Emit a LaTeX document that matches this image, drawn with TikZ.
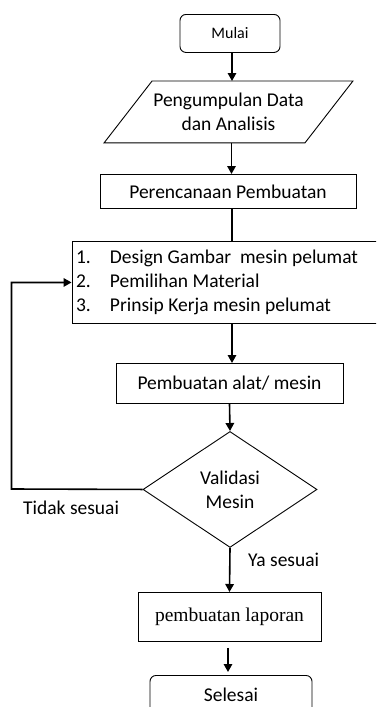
\documentclass[tikz,border=0pt]{standalone}
\usepackage{fontspec}
\setmainfont{Carlito}
\newfontfamily\timesfont{Liberation Serif}
\usetikzlibrary{arrows.meta,positioning,shapes.geometric}
\tikzset{
  box/.style={draw=black,line width=0.9pt,align=center,inner sep=3pt,font=\fontsize{19.5}{24}\selectfont},
  term/.style={box,rounded corners=6pt},
  proc/.style={box},
  iotext/.style={box,draw=none},
  dec/.style={box,diamond,inner sep=0pt,aspect=1.5},
  arr/.style={-{Triangle[length=8pt,width=8.5pt]},line width=1.6pt},
  lin/.style={line width=1.6pt},
  lbl/.style={font=\fontsize{19.5}{24}\selectfont,inner sep=0pt},
}

\begin{document}
\begin{tikzpicture}[x=1pt,y=1pt]
\useasboundingbox (0,0) rectangle (376,-707);
\clip (0,0) rectangle (376,-707);
% main column
\node[term,anchor=north,minimum width=100pt,minimum height=38pt,font=\fontsize{16}{20}\selectfont] (mul) at (230,-14) {Mulai};
\node[iotext,anchor=north,minimum width=200pt,minimum height=61pt] (pg) at (228.5,-81) {Pengumpulan Data\\ dan Analisis};
\draw[line width=0.9pt] ([xshift=24pt]pg.north west) -- ([xshift=24pt]pg.north east)
  -- ([xshift=-24pt]pg.south east) -- ([xshift=-24pt]pg.south west) -- cycle;
\node[proc,anchor=north,minimum width=256pt,minimum height=34pt] (pr) at (228,-174) {Perencanaan Pembuatan};
\node[proc,anchor=north,text width=298pt,align=flush left,inner xsep=4pt,inner ysep=0pt,minimum height=82pt] (lst) at (225,-241)
  {\makebox[34pt][l]{1.}Design Gambar\ \ mesin pelumat\\
   \makebox[34pt][l]{2.}Pemilihan Material\\
   \makebox[34pt][l]{3.}Prinsip Kerja mesin pelumat};
\node[proc,anchor=north,minimum width=227pt,minimum height=40pt] (alat) at (229.5,-363) {Pembuatan alat/ mesin};
\node[dec,anchor=north,minimum width=174pt,minimum height=116pt] (dia) at (230,-431) {Validasi\\ Mesin};
\node[proc,anchor=north,minimum width=183pt,minimum height=49pt,font=\timesfont\fontsize{19.5}{24}\selectfont] (lap) at (229.5,-592) {pembuatan laporan};
\node[term,anchor=north,minimum width=162pt,minimum height=38pt] (sel) at (231,-675) {Selesai};
% connectors
\draw[arr] ([xshift=2pt]mul.south) -- ([xshift=2pt]mul.south |- pg.north);
\draw[arr] ([xshift=3pt]pg.south) -- ([xshift=3pt]pg.south |- pr.north);
\draw[lin] ([xshift=4pt]pr.south) -- ([xshift=4pt]pr.south |- lst.north);
\draw[arr] ([xshift=2.5pt]alat.north |- lst.south) -- ([xshift=2.5pt]alat.north);
\draw[arr] (alat.south) -- (dia.north);
\draw[arr] (dia.south) -- (lap.north);
\draw[arr,shorten <=6pt,shorten >=3pt] ([xshift=-1.5pt]lap.south) -- ([xshift=-1.5pt]lap.south |- sel.north);
% feedback loop
\coordinate (fb) at (11.5,-489);
\draw[arr] (dia.west) -- (fb) |- (lst.west);
\node[lbl,below right=12pt and 11.5pt of fb] (tidak) {Tidak sesuai};
\node[lbl,below right=5pt and 18pt of dia.south] (ya) {Ya sesuai};
\end{tikzpicture}
\end{document}
